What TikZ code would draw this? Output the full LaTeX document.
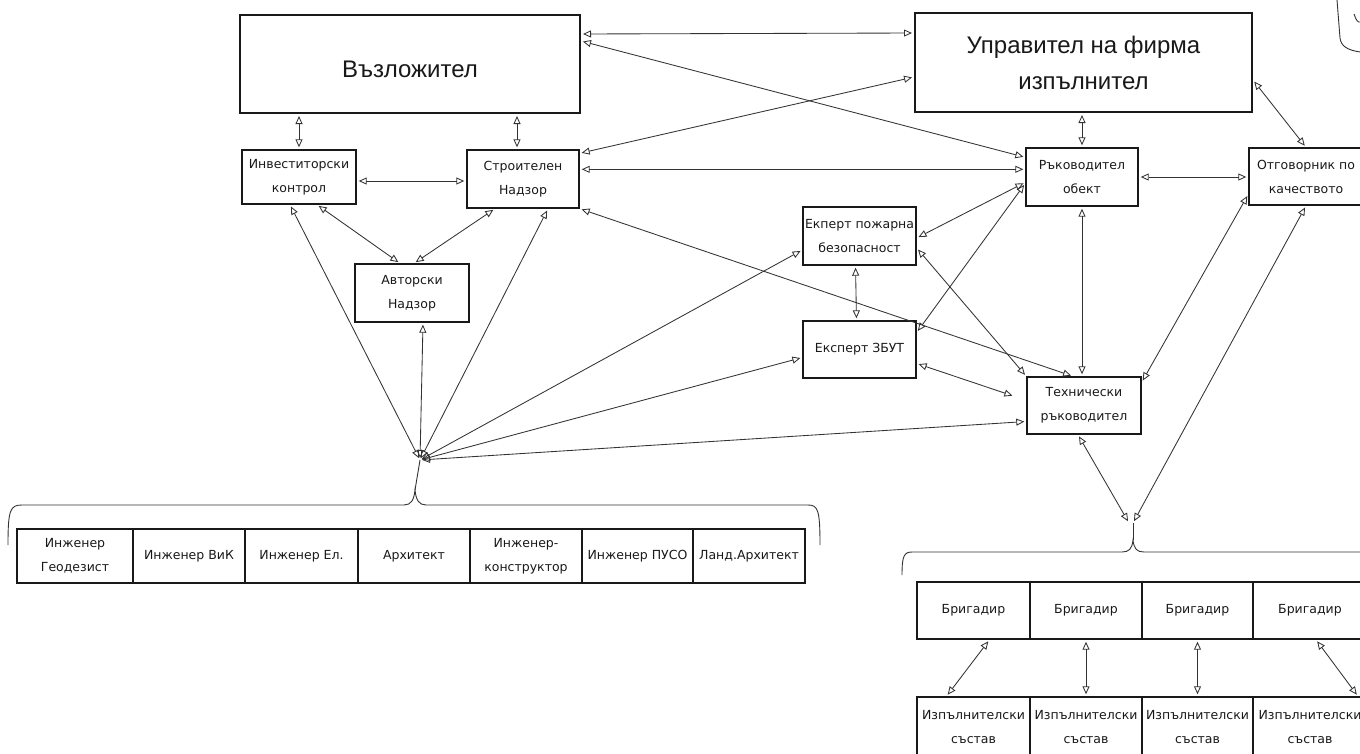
\documentclass[tikz,border=0pt]{standalone}
\usepackage{fontspec}
\newfontfamily\lblfont{DejaVu Sans}
\newfontfamily\bigfont{Liberation Sans}
\usetikzlibrary{arrows.meta,calc}
\begin{document}
\begin{tikzpicture}[x=1pt,y=-1pt,
  box/.style={draw=black!90, line width=1.4pt, inner sep=0pt, align=center,
    text=black!90, font=\lblfont\fontsize{12.5}{24}\selectfont},
  bigbox/.style={box, line width=2pt, font=\bigfont\fontsize{24}{36}\selectfont},
  link/.style={draw=black!80, line width=0.85pt,
    {Triangle[open,length=8pt,width=7pt]}-{Triangle[open,length=8pt,width=7pt]},
    shorten <=2pt, shorten >=2pt},
  bracepath/.style={draw=black!80, line width=0.9pt}]
\useasboundingbox (0,0) rectangle (1360,753);
\clip (0,0) rectangle (1360,753);
\fill[white] (0,0) rectangle (1360,753);

% main boxes
\node[bigbox, minimum width=340pt, minimum height=98pt, text height=32pt, text depth=5pt] (voz) at (410,64) {Възложител};
\node[bigbox, minimum width=337pt, minimum height=99pt] (upr) at (1083.5,62.5) {Управител на фирма\\изпълнител};
\node[box, minimum width=114pt, minimum height=54pt] (inv) at (299,177) {Инвеститорски\\контрол};
\node[box, minimum width=112pt, minimum height=58pt] (str) at (523,179) {Строителен\\Надзор};
\node[box, minimum width=114pt, minimum height=58pt] (avt) at (412,293) {Авторски\\Надзор};
\node[box, minimum width=112pt, minimum height=58pt] (rak) at (1082,177) {Ръководител\\обект};
\node[box, minimum width=114pt, minimum height=57pt] (otg) at (1306,176.5) {Отговорник по\\качеството};
\node[box, minimum width=113pt, minimum height=58pt] (pozh) at (859.5,236) {Екперт пожарна\\безопасност};
\node[box, minimum width=113pt, minimum height=57pt] (zbut) at (859.5,349.5) {Експерт ЗБУТ};
\node[box, minimum width=114pt, minimum height=57pt] (teh) at (1084,405.5) {Технически\\ръководител};

% bottom left row
\node[box, minimum width=116pt, minimum height=54pt] (e1) at (75,556) {Инженер\\Геодезист};
\node[box, minimum width=112pt, minimum height=54pt] (e2) at (189,556) {Инженер ВиК};
\node[box, minimum width=113pt, minimum height=54pt] (e3) at (301.5,556) {Инженер Ел.};
\node[box, minimum width=112pt, minimum height=54pt] (e4) at (414,556) {Архитект};
\node[box, minimum width=112pt, minimum height=54pt] (e5) at (526,556) {Инженер-\\конструктор};
\node[box, minimum width=111pt, minimum height=54pt] (e6) at (637.5,556) {Инженер ПУСО};
\node[box, minimum width=112pt, minimum height=54pt] (e7) at (749,556) {Ланд.Архитект};

% brigades
\node[box, minimum width=113pt, minimum height=57pt] (b1) at (973.5,610.5) {Бригадир};
\node[box, minimum width=112pt, minimum height=57pt] (b2) at (1086,610.5) {Бригадир};
\node[box, minimum width=111pt, minimum height=57pt] (b3) at (1197.5,610.5) {Бригадир};
\node[box, minimum width=114pt, minimum height=57pt] (b4) at (1310,610.5) {Бригадир};
\node[box, minimum width=113pt, minimum height=60pt] (i1) at (973.5,727) {Изпълнителски\\състав};
\node[box, minimum width=112pt, minimum height=60pt] (i2) at (1086,727) {Изпълнителски\\състав};
\node[box, minimum width=111pt, minimum height=60pt] (i3) at (1197.5,727) {Изпълнителски\\състав};
\node[box, minimum width=114pt, minimum height=60pt] (i4) at (1310,727) {Изпълнителски\\състав};

% cluster points
\coordinate (cl) at (420,460);
\coordinate (lcusp) at (415,490);
\coordinate (rc) at (1133,523);
\coordinate (rcusp) at (1133,540);

% braces
\draw[bracepath] (8,545) .. controls (8,510) and (10,505) .. (22,505) -- (404,505)
  .. controls (411,505) and (414,500) .. (lcusp)
  .. controls (416,500) and (419,505) .. (426,505) -- (808,505)
  .. controls (818,505) and (820,510) .. (820,545);
\draw[bracepath] (lcusp) -- (cl);
\draw[bracepath] (902,575) .. controls (902,556) and (904,552) .. (912,552) -- (1122,552)
  .. controls (1129,552) and (1132,549) .. (rcusp)
  .. controls (1134,549) and (1137,552) .. (1144,552) -- (1365,552);
\draw[bracepath] (rcusp) -- (rc);

% helper coordinates
\coordinate (s6) at ([xshift=-6pt]str.north);
\coordinate (i4a) at ([yshift=-4pt]inv.east);

% connectors
\draw[link] ([yshift=-20pt]voz.north east) -- ([yshift=-21pt]upr.north west);
\draw[link] ([yshift=-27pt]voz.north east) -- ([yshift=-10pt]rak.north west);
\draw[link] ([yshift=-4pt]str.north east) -- ([yshift=-65pt]upr.north west);
\draw[link] ([yshift=-20pt]str.north east) -- ([yshift=-22pt]rak.north west);
\draw[link] (voz.south -| inv.north) -- (inv.north);
\draw[link] (s6 |- voz.south) -- (s6);
\draw[link] (i4a) -- (i4a -| str.west);
\draw[link] (rak.north |- upr.south) -- (rak.north);
\draw[link] (rak.east) -- (rak.east -| otg.west);
\draw[link] ([yshift=-68pt]upr.north east) -- (otg.north);
\draw[link] ([xshift=18pt]inv.south) -- ([xshift=-12pt]avt.north);
\draw[link] ([xshift=-28pt]str.south) -- ([xshift=2pt]avt.north);
\draw[link] (cl) -- ([xshift=-9pt]inv.south);
\draw[link] (cl) -- ([xshift=11pt]avt.south);
\draw[link] (cl) -- ([xshift=25pt]str.south);
\draw[link] (cl) -- ([yshift=-14pt]pozh.west);
\draw[link] (cl) -- ([yshift=-8pt]zbut.west);
\draw[link] (cl) -- ([yshift=-16pt]teh.west);
\draw[link] (str.south east) -- ([xshift=-11pt]teh.north);
\draw[link] (rak.south) -- (rak.south |- teh.north);
\draw[link] ([yshift=-2pt]pozh.east) -- ([yshift=-35pt]rak.north west);
\draw[link] ([yshift=17pt]zbut.east) -- ([yshift=-36pt]rak.north west);
\draw[link] ([yshift=-12pt]pozh.east) -- (teh.north west);
\draw[link] ([xshift=-4pt]pozh.south) -- ([xshift=-3pt]zbut.north);
\draw[link] ([yshift=-14pt]zbut.east) -- ([xshift=-12pt,yshift=-20pt]teh.north west);
\draw[link] ([yshift=-47pt]otg.north west) -- ([yshift=-6pt]teh.north east);
\draw[link] (otg.south) -- (rc);
\draw[link] ([xshift=-6pt]teh.south) -- ([xshift=-4pt]rc);
\draw[link] ([xshift=16pt]b1.south) -- ([xshift=-27pt]i1.north);
\draw[link] (b2.south) -- (i2.north);
\draw[link] (b3.south) -- (i3.north);
\draw[link] ([xshift=6pt]b4.south) -- ([xshift=48pt]i4.north);

% corner artifact (top right)
\draw[bracepath] (1337,0) -- (1340,38) .. controls (1341,46) and (1347,50) .. (1360,52);
\draw[bracepath] (1354,14) .. controls (1356,20) and (1358,23) .. (1360,22);
\end{tikzpicture}
\end{document}
